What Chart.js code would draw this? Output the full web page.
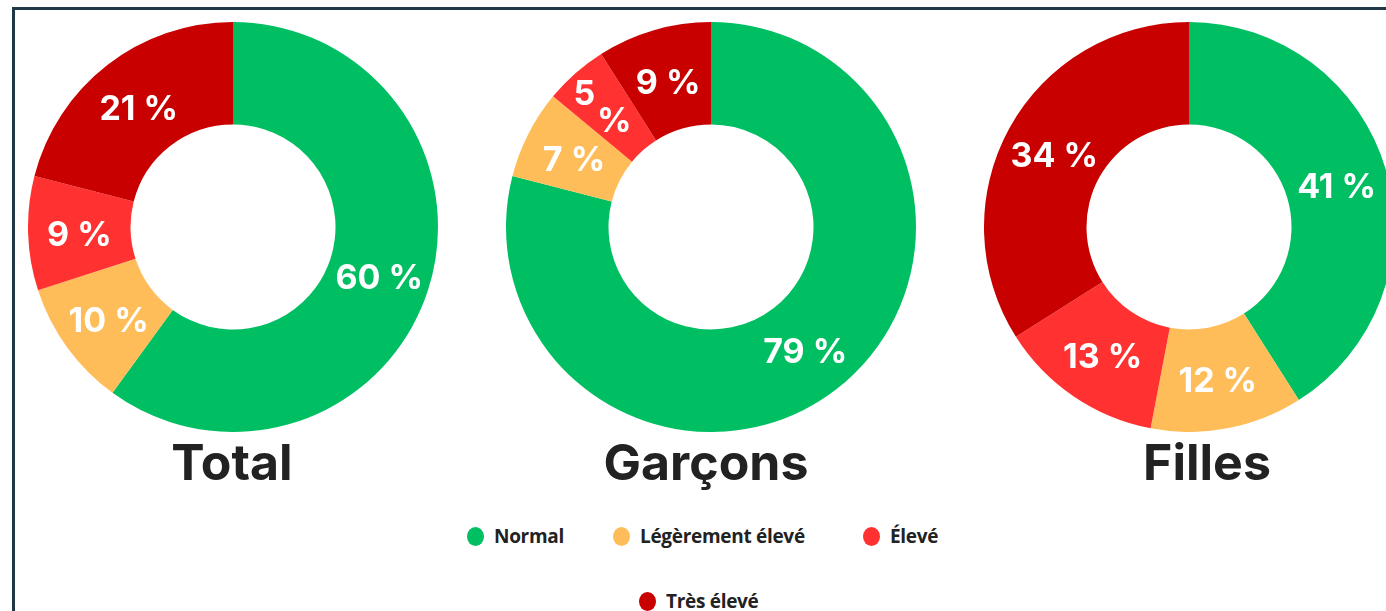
<!DOCTYPE html>
<html>
<head>
<meta charset="utf-8">
<script src="https://cdn.jsdelivr.net/npm/chart.js@4.4.1/dist/chart.umd.min.js"></script>
<style>
  html, body { margin:0; padding:0; background:#fff; width:1386px; height:611px; overflow:hidden; }
  #frame { position:absolute; left:12px; top:7px; width:1400px; height:640px; border:3px solid #1f3746; box-sizing:border-box; }
  .c { position:absolute; width:410px; height:410px; }
  .title { position:absolute; top:432px; font-family:Inter, "Open Sans", sans-serif; font-weight:700; font-size:50px; color:#222; transform:translateX(-50%); white-space:nowrap; }
  .leg { position:absolute; font-family:"Open Sans", sans-serif; font-weight:700; font-size:19px; letter-spacing:-0.3px; color:#222; display:flex; align-items:center; white-space:nowrap; }
  .leg span.dot { display:inline-block; width:17px; height:19px; border-radius:50%; margin-right:10px; }
</style>
</head>
<body>
<div id="frame"></div>
<canvas id="c0" class="c" style="left:28px;top:22px"></canvas>
<canvas id="c1" class="c" style="left:506px;top:22px"></canvas>
<canvas id="c2" class="c" style="left:984px;top:22px"></canvas>
<div id="titles"></div>
<div id="legend"></div>
<script>
const categories = ["Normal", "Légèrement élevé", "Élevé", "Très élevé"];
const colors = ["#00BF63", "#FFBD59", "#FF3131", "#C80000"];
const groups = ["Total", "Garçons", "Filles"];
const totalValues = [60, 10, 9, 21];
const garconsValues = [79, 7, 5, 9];
const fillesValues = [41, 12, 13, 34];
const seriesValues = [totalValues, garconsValues, fillesValues];

const titleCenters = [232, 706, 1207];
const legendPos = [[467, 523], [613, 523], [863, 523], [639, 588]];

const labelPlugin = {
  id: 'arcLabels',
  afterDatasetsDraw(chart) {
    const ctx = chart.ctx;
    const meta = chart.getDatasetMeta(0);
    const data = chart.data.datasets[0].data;
    ctx.save();
    ctx.fillStyle = '#ffffff';
    ctx.font = '700 34px Inter, "Open Sans", sans-serif';
    ctx.textAlign = 'center';
    ctx.textBaseline = 'middle';
    meta.data.forEach((arc, i) => {
      const p = arc.tooltipPosition();
      const v = data[i];
      if (v <= 5) {
        ctx.fillText(String(v), p.x - 25, p.y - 17);
        ctx.fillText('%', p.x + 5, p.y + 10);
      } else {
        ctx.fillText(v + ' %', p.x, p.y + 4);
      }
    });
    ctx.restore();
  }
};

seriesValues.forEach((vals, k) => {
  new Chart(document.getElementById('c' + k), {
    type: 'doughnut',
    data: {
      labels: categories,
      datasets: [{ data: vals, backgroundColor: colors, borderWidth: 0, hoverOffset: 0 }]
    },
    options: {
      responsive: false,
      animation: false,
      cutout: '50%',
      layout: { padding: 0 },
      plugins: { legend: { display: false }, tooltip: { enabled: false } }
    },
    plugins: [labelPlugin]
  });
});

const titles = document.getElementById('titles');
groups.forEach((g, k) => {
  const d = document.createElement('div');
  d.className = 'title';
  d.style.left = titleCenters[k] + 'px';
  d.textContent = g;
  titles.appendChild(d);
});

const legend = document.getElementById('legend');
categories.forEach((c, k) => {
  const d = document.createElement('div');
  d.className = 'leg';
  d.style.left = legendPos[k][0] + 'px';
  d.style.top = legendPos[k][1] + 'px';
  const dot = document.createElement('span');
  dot.className = 'dot';
  dot.style.background = colors[k];
  d.appendChild(dot);
  d.appendChild(document.createTextNode(c));
  legend.appendChild(d);
});
</script>
</body>
</html>
